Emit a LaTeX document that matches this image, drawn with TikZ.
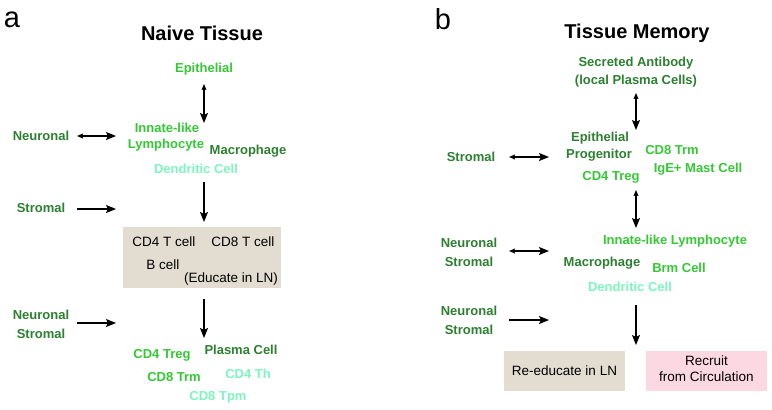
\documentclass[tikz,border=0pt]{standalone}
\usepackage{fontspec}
\setmainfont{Liberation Sans}
\usetikzlibrary{arrows.meta}
\definecolor{dkg}{RGB}{44,128,48}
\definecolor{brg}{RGB}{52,200,52}
\definecolor{pal}{RGB}{125,245,190}
\definecolor{beige}{RGB}{227,221,209}
\definecolor{pinkbox}{RGB}{252,216,226}
\tikzset{
  lbl/.style={font=\fontsize{13}{14}\selectfont\bfseries, inner sep=0pt, align=center},
  dk/.style={lbl, text=dkg},
  br/.style={lbl, text=brg},
  pl/.style={lbl, text=pal},
  plain/.style={font=\fontsize{13.5}{16}\selectfont, inner sep=0pt, text=black},
  ttl/.style={font=\fontsize{20}{22}\selectfont\bfseries, inner sep=0pt},
  panel/.style={font=\fontsize{29}{30}\selectfont, inner sep=0pt},
  onearrow/.style={line width=1.3pt, -{Stealth[length=10pt,width=8pt,inset=2pt]}},
  twoarrow/.style={line width=1.3pt, {Stealth[length=6pt,width=5pt,inset=1pt]}-{Stealth[length=10pt,width=8pt,inset=2pt]}},
  boxx/.style={draw=none, inner sep=0pt}
}
\begin{document}
\begin{tikzpicture}[x=1pt,y=-1pt]
\useasboundingbox (0,0) rectangle (772,410);
% ---------- panel a ----------
\node[panel] (pa) at (12,20) {a};
\node[ttl] (ta) at (202,33) {Naive Tissue};
\node[br] (epi) at (204,69) {Epithelial};
\node[dk] (neu1) at (41,136) {Neuronal};
\node[br] (inn) at (167,128) {Innate-like};
\node[br] (lym) at (166,145) {Lymphocyte};
\node[dk] (mac) at (248,151) {Macrophage};
\node[pl] (den) at (196,169) {Dendritic Cell};
\node[dk] (str1) at (41,208) {Stromal};
\fill[beige] (123,227) rectangle (281,288);
\node[plain] (cd4) at (164,242) {CD4 T cell};
\node[plain] (cd8) at (243,242) {CD8 T cell};
\node[plain] (bc) at (163,265) {B cell};
\node[plain] (edu) at (231,279) {(Educate in LN)};
\node[dk] (neu2) at (41,315) {Neuronal};
\node[dk] (str2) at (41,334) {Stromal};
\node[br] (treg) at (162,355) {CD4 Treg};
\node[dk] (pla) at (241,350) {Plasma Cell};
\node[br] (trm) at (174,377) {CD8 Trm};
\node[pl] (th) at (248,374) {CD4 Th};
\node[pl] (tpm) at (218,397) {CD8 Tpm};
% arrow ends panel a
\coordinate (a1s) at (204,84);  \coordinate (a1e) at (204,123);
\coordinate (a2s) at (77,136);  \coordinate (a2e) at (116,136);
\coordinate (a3s) at (204,182); \coordinate (a3e) at (204,222);
\coordinate (a4s) at (77,209);  \coordinate (a4e) at (116,209);
\coordinate (a5s) at (204,299); \coordinate (a5e) at (204,338);
\coordinate (a6s) at (77,323);  \coordinate (a6e) at (116,323);
\draw[twoarrow] (a1s) -- (a1e);
\draw[twoarrow] (a2s) -- (a2e);
\draw[onearrow] (a3s) -- (a3e);
\draw[onearrow] (a4s) -- (a4e);
\draw[onearrow] (a5s) -- (a5e);
\draw[onearrow] (a6s) -- (a6e);
% ---------- panel b ----------
\node[panel] (pb) at (443,19) {b};
\node[ttl] (tb) at (637,33) {Tissue Memory};
\node[dk] (sec) at (636,63) {Secreted Antibody};
\node[dk] (loc) at (636,81) {(local Plasma Cells)};
\node[dk] (str3) at (471,157) {Stromal};
\node[dk] (epb) at (600,138) {Epithelial};
\node[dk] (pro) at (599,155) {Progenitor};
\node[br] (tregb) at (611,177) {CD4 Treg};
\node[br] (trmb) at (672,150) {CD8 Trm};
\node[br] (ige) at (698,169) {IgE+ Mast Cell};
\node[dk] (neu3) at (469,243) {Neuronal};
\node[dk] (str4) at (469,262) {Stromal};
\node[br] (innb) at (675,241) {Innate-like Lymphocyte};
\node[dk] (macb) at (602,263) {Macrophage};
\node[br] (brm) at (679,268) {Brm Cell};
\node[pl] (denb) at (630,287) {Dendritic Cell};
\node[dk] (neu4) at (469,311) {Neuronal};
\node[dk] (str5) at (469,330) {Stromal};
\node[boxx, fill=beige, minimum width=121pt, minimum height=40pt] (reed) at (564.5,371) {};
\node[plain] (reedt) at (reed.center) {Re-educate in LN};
\node[boxx, fill=pinkbox, minimum width=121pt, minimum height=40pt] (rec) at (706.5,371) {};
\node[plain] (rec1) at (706.5,361) {Recruit};
\node[plain] (rec2) at (706.5,377) {from Circulation};
% arrow ends panel b
\coordinate (b1s) at (636,93);  \coordinate (b1e) at (636,130);
\coordinate (b2s) at (509,157); \coordinate (b2e) at (549,157);
\coordinate (b3s) at (636,190); \coordinate (b3e) at (636,228);
\coordinate (b4s) at (509,251); \coordinate (b4e) at (549,251);
\coordinate (b5s) at (636,305); \coordinate (b5e) at (636,345);
\coordinate (b6s) at (509,320); \coordinate (b6e) at (549,320);
\draw[twoarrow] (b1s) -- (b1e);
\draw[twoarrow] (b2s) -- (b2e);
\draw[twoarrow] (b3s) -- (b3e);
\draw[twoarrow] (b4s) -- (b4e);
\draw[onearrow] (b5s) -- (b5e);
\draw[onearrow] (b6s) -- (b6e);
\end{tikzpicture}
\end{document}
